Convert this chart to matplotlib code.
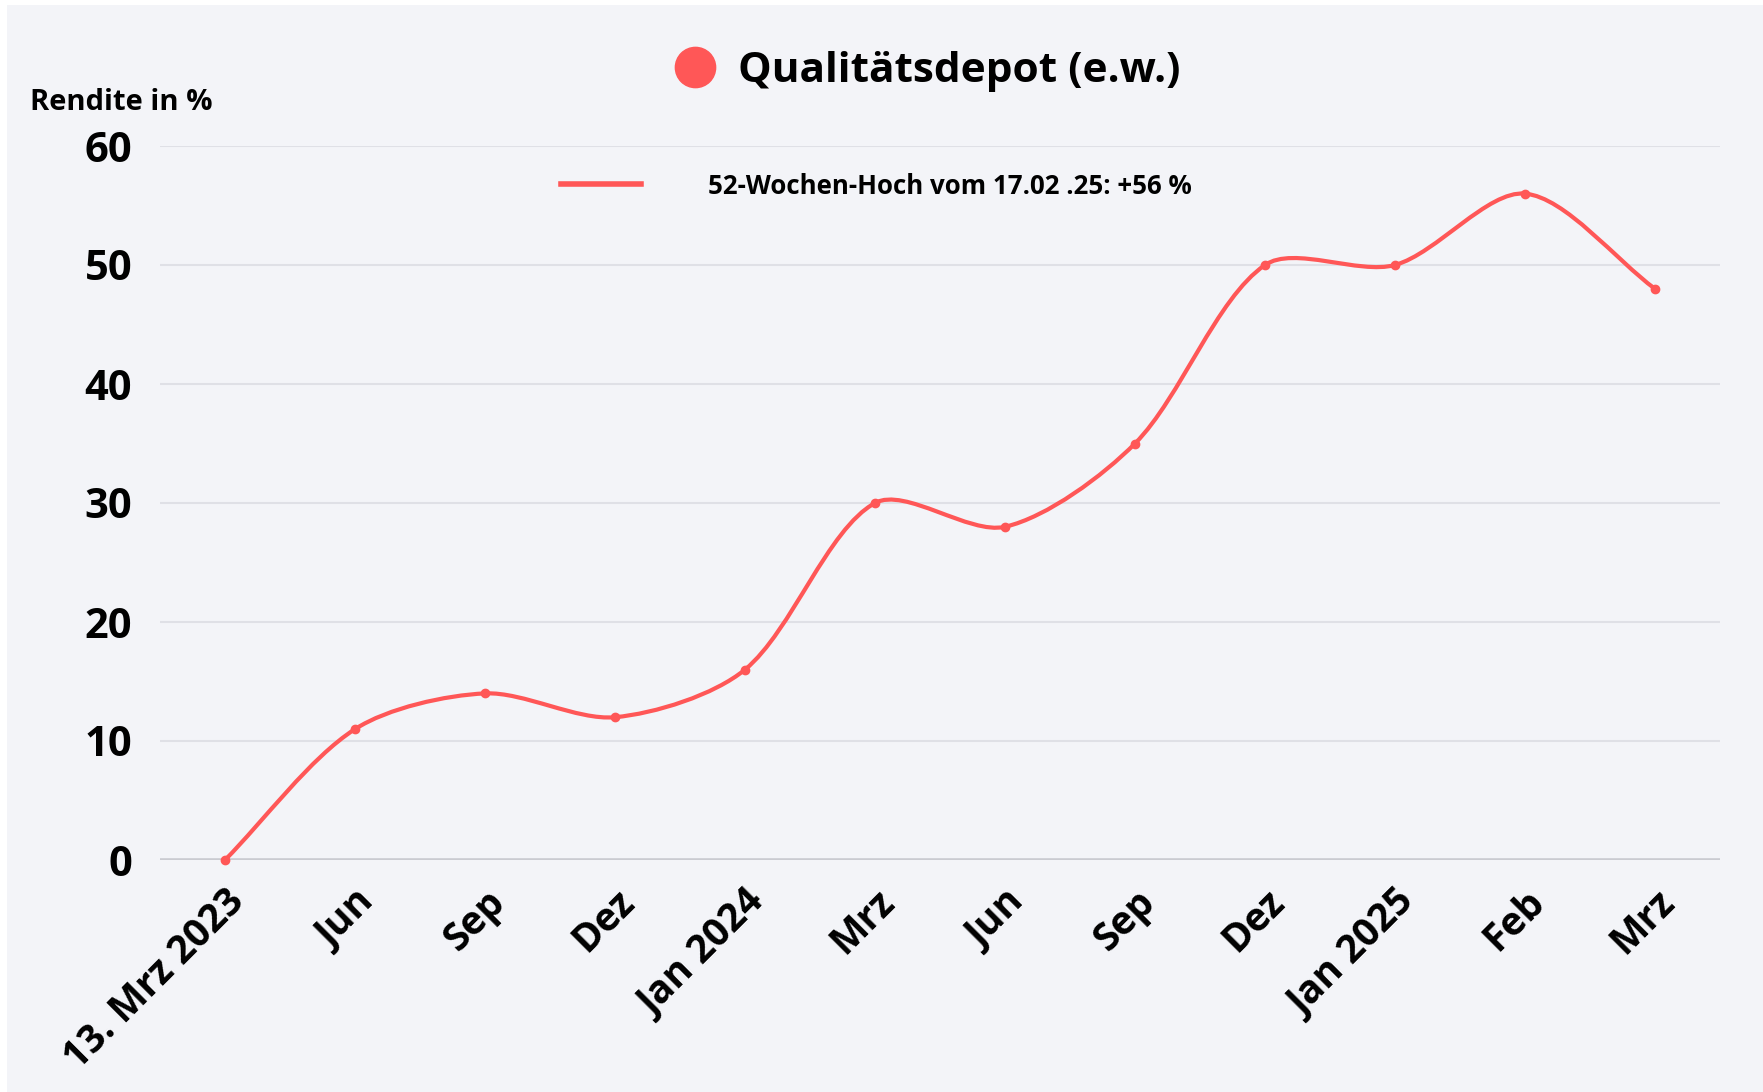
import matplotlib
matplotlib.use("Agg")
import matplotlib.pyplot as plt
import matplotlib.transforms as mtransforms
from matplotlib.path import Path
from matplotlib.patches import PathPatch, Rectangle
from matplotlib.lines import Line2D

plt.rcParams['font.family'] = ['Open Sans', 'DejaVu Sans']

# data
labels = ["13. Mrz 2023", "Jun", "Sep", "Dez", "Jan 2024", "Mrz",
          "Jun", "Sep", "Dez", "Jan 2025", "Feb", "Mrz"]
rendite = [0, 11, 14, 12, 16, 30, 28, 35, 50, 50, 56, 48]
yticks = [0, 10, 20, 30, 40, 50, 60]

series_name = "Qualitätsdepot (e.w.)"
high_note = "52-Wochen-Hoch vom 17.02 .25: +56 %"

RED = "#ff5757"
BG = "#f3f4f8"

W, H = 1763, 1092
fig = plt.figure(figsize=(W / 100, H / 100), dpi=100, facecolor="white")
fig.patches.append(Rectangle((7 / W, 0), 1, 1 - 5 / H, transform=fig.transFigure,
                             facecolor=BG, edgecolor="none", zorder=-10))

ax_w, ax_h = 1560, 714
ax = fig.add_axes([160 / W, (H - 860) / H, ax_w / W, ax_h / H])
ax.patch.set_alpha(0)

x = list(range(len(rendite)))
ax.set_xlim(-0.5, len(x) - 0.5)
ax.set_ylim(0, 60)

# smooth line like a chart.js spline, as bezier segments
sx = ax_w / len(x)
sy = ax_h / 60
tension = 0.3
n = len(x)
cps = []
for i in range(n):
    pv = (x[max(i - 1, 0)], rendite[max(i - 1, 0)])
    cu = (x[i], rendite[i])
    nx = (x[min(i + 1, n - 1)], rendite[min(i + 1, n - 1)])
    d01 = ((cu[0] - pv[0]) ** 2 * sx ** 2 + (cu[1] - pv[1]) ** 2 * sy ** 2) ** 0.5
    d12 = ((nx[0] - cu[0]) ** 2 * sx ** 2 + (nx[1] - cu[1]) ** 2 * sy ** 2) ** 0.5
    tot = d01 + d12
    fa = tension * d01 / tot if tot else 0
    fb = tension * d12 / tot if tot else 0
    cps.append(((cu[0] - fa * (nx[0] - pv[0]), cu[1] - fa * (nx[1] - pv[1])),
                (cu[0] + fb * (nx[0] - pv[0]), cu[1] + fb * (nx[1] - pv[1]))))
verts = [(x[0], rendite[0])]
codes = [Path.MOVETO]
for i in range(n - 1):
    verts += [cps[i][1], cps[i + 1][0], (x[i + 1], rendite[i + 1])]
    codes += [Path.CURVE4] * 3
ax.add_patch(PathPatch(Path(verts, codes), facecolor="none", edgecolor=RED,
                       lw=3, capstyle="round", zorder=3, clip_on=False))
ax.plot(x, rendite, "o", color=RED, markersize=6, zorder=4, clip_on=False)

ax.set_yticks(yticks)
ax.set_yticklabels([str(v) for v in yticks], fontsize=30, fontweight="bold")
ax.set_xticks(x)
ax.set_xticklabels(labels, fontsize=28, fontweight="bold", rotation=45,
                   ha="right", va="top", rotation_mode="anchor")
off = mtransforms.ScaledTranslation(0.19, 0, fig.dpi_scale_trans)
for lab in ax.get_xticklabels():
    lab.set_transform(lab.get_transform() + off)
ax.tick_params(axis="both", length=0)
ax.tick_params(axis="y", pad=20)
ax.tick_params(axis="x", pad=16)

for v in yticks:
    if v == 0:
        ax.axhline(v, color="#cacbd1", lw=2.6, zorder=1)
    else:
        ax.axhline(v, color="#dfe0e6", lw=1.5, zorder=1)
for s in ax.spines.values():
    s.set_visible(False)

fig.text(30 / W, 1 - 102 / H, "Rendite in %", fontsize=21, fontweight="bold",
         ha="left", va="center")

# series title with dot marker
h_series = Line2D([], [], marker="o", color=RED, linestyle="none", markersize=29)
fig.legend(handles=[h_series], labels=[series_name], loc="center",
           bbox_to_anchor=(924 / W, 1 - 71 / H), frameon=False,
           prop={"size": 30.5, "weight": "bold"}, handletextpad=0.35,
           handlelength=1.3, borderpad=0, borderaxespad=0)

# 52-week-high note
h_note = Line2D([], [], color=RED, lw=4)
fig.legend(handles=[h_note], labels=[high_note], loc="center left",
           bbox_to_anchor=(561 / W, 1 - 186 / H), frameon=False,
           prop={"size": 18.6, "weight": "bold"}, handlelength=3.1,
           handletextpad=2.6, borderpad=0, borderaxespad=0)

fig.savefig("out.png", dpi=100, facecolor=fig.get_facecolor())
